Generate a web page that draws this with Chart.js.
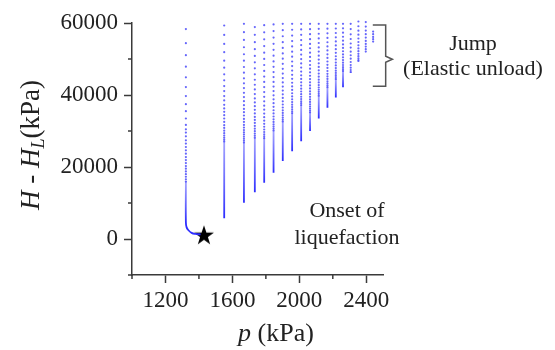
<!DOCTYPE html>
<html lang="pt-BR">
<head>
<meta charset="UTF-8">
<title>H - HL x p</title>
<script src="https://cdn.jsdelivr.net/npm/chart.js"></script>
<style>
  html, body { margin: 0; padding: 0; background: #fff; }
</style>
</head>
<body>
<canvas id="graficoPontos" width="555" height="350"></canvas>
<script>
  // pressão p (kPa) de cada coluna de pontos
  const colunasP = [1322, 1551, 1669, 1734, 1790, 1846, 1901, 1957, 2011, 2064, 2116, 2168, 2218, 2261, 2307, 2353, 2397, 2441];

  // valores H - HL (kPa) lidos em cada coluna, de cima para baixo
  const col01 = [58300, 54390, 51050, 47870, 44910, 42200, 39700, 37460, 35510, 33470, 31690, 30460, 29570, 28530, 27420, 26500, 25550, 24630, 23710, 22760, 21920, 21090, 20250, 19530, 18770, 18020, 17290, 16600, 15950];
  const col02 = [59300, 56700, 54200, 51900, 49540, 47590, 45750, 44070, 42480, 41090, 39690, 38490, 37270, 36270, 35320, 34400, 33470, 32530, 31610, 30860, 30100, 29400, 28750, 28150, 27600, 27100];
  const col03 = [59770, 57450, 55300, 53270, 51320, 49540, 47780, 46190, 44630, 43230, 41920, 40610, 39410, 38290, 37170, 36140, 35230, 34310, 33360, 32520, 31690, 30960, 30250, 29600, 29000, 28400, 27850, 27300, 26800];
  const col04 = [58860, 56710, 54670, 52720, 50850, 49090, 47420, 45750, 44240, 42850, 41560, 40250, 39050, 37940, 36900, 35870, 34870, 33920, 33080, 32250, 31410, 30650, 29950, 29300, 28700, 28150];
  const col05 = [59400, 57400, 55460, 53590, 51770, 50020, 48330, 46700, 45130, 43630, 42190, 40810, 39490, 38230, 37040, 35910, 34840, 33830, 32880, 32000, 31180, 30420, 29720, 29080, 28510, 28000];
  const col06 = [59600, 57750, 55960, 54220, 52540, 50910, 49340, 47830, 46370, 44970, 43620, 42330, 41100, 39920, 38800, 37730, 36720, 35770, 34870, 34030, 33240, 32510, 31840, 31220, 30660, 30150];
  const col07 = [59770, 58020, 56320, 54680, 53090, 51560, 50080, 48650, 47280, 45960, 44700, 43490, 42330, 41230, 40180, 39190, 38250, 37360, 36530, 35750, 35030, 34360, 33740, 33180, 32670];
  const col08 = [59770, 58120, 56520, 54980, 53480, 52040, 50650, 49310, 48030, 46790, 45610, 44480, 43400, 42380, 41400, 40480, 39610, 38790, 38030, 37310, 36650, 36040, 35480, 34980];
  const col09 = [59770, 58220, 56720, 55270, 53870, 52520, 51220, 49970, 48770, 47620, 46520, 45470, 44470, 43520, 42620, 41770, 40970, 40220, 39520, 38870, 38270, 37720, 37220];
  const col10 = [59770, 58290, 56900, 55500, 54190, 52990, 51760, 50570, 49450, 48330, 47300, 46300, 45350, 44430, 43510, 42670, 41840, 41000, 40250, 39490, 38770, 38080, 37420, 36800, 36220, 35680, 35180];
  const col11 = [59770, 58370, 57020, 55710, 54440, 53220, 52050, 50920, 49830, 48790, 47800, 46850, 45940, 45080, 44270, 43500, 42770, 42090, 41460, 40870, 40320, 39820];
  const col12 = [59770, 58420, 57120, 55860, 54650, 53490, 52380, 51310, 50290, 49310, 48390, 47510, 46670, 45890, 45150, 44460, 43810, 43210, 42660, 42160];
  const col13 = [59770, 58470, 57220, 56020, 54870, 53770, 52720, 51720, 50770, 49870, 49020, 48220, 47470, 46770, 46120, 45520, 44970, 44470];
  const col14 = [59770, 58520, 57320, 56180, 55090, 54060, 53080, 52150, 51280, 50460, 49700, 48990, 48330, 47730, 47180, 46690];
  const col15 = [59770, 58300, 56850, 55550, 54300, 53160, 52040, 51040, 50090, 49170, 48330, 47580, 46940, 46420];
  const col16 = [60410, 59100, 57880, 56750, 55700, 54720, 53800, 52950, 52160, 51440, 50790, 50200, 49680];
  const col17 = [60250, 59020, 57900, 56900, 55950, 55030, 54190, 53440, 52720, 52050];
  const col18 = [57620, 56900, 56140, 55500, 54830];
  const colunasH = [col01, col02, col03, col04, col05, col06, col07, col08, col09, col10, col11, col12, col13, col14, col15, col16, col17, col18];

  // fim do trecho denso (pontos colados) de cada coluna
  const fimDenso = [null, 5750, 10040, 13000, 15600, 18400, 21650, 24350, 27140, 30000, 33470, 36430, 39330, 42120, 46200, 49260, null, null];

  // trecho denso da primeira curva até o início da liquefação
  const curvaP = [1322, 1322, 1326, 1336, 1356, 1380, 1410];
  const curvaH = [15950, 4600, 3300, 2500, 1700, 1400, 1300];

  // estrela: início da liquefação
  const estrelaP = [1430];
  const estrelaH = [900];

  // eixos
  const ticksX = [1000, 1200, 1400, 1600, 1800, 2000, 2200, 2400];
  const rotulosX = [1200, 1600, 2000, 2400];
  const ticksY = [-10000, 0, 10000, 20000, 30000, 40000, 50000, 60000];
  const rotulosY = [0, 20000, 40000, 60000];

  const corPonto = 'rgba(75, 75, 250, 0.85)';
  const corEixo = '#3a3a3a';
  const fonteSerif = "'Liberation Serif', 'DejaVu Serif', serif";

  // estrela preta desenhada num canvas pequeno
  const estrela = document.createElement('canvas');
  estrela.width = 24;
  estrela.height = 24;
  const ce = estrela.getContext('2d');
  ce.beginPath();
  for (let i = 0; i < 10; i++) {
    const r = i % 2 === 0 ? 10.5 : 4.1;
    const a = -Math.PI / 2 + i * Math.PI / 5;
    ce.lineTo(12 + r * Math.cos(a), 12 + r * Math.sin(a));
  }
  ce.closePath();
  ce.fillStyle = '#000';
  ce.fill();

  // degradê do trecho denso: mais claro em cima, azul forte embaixo
  function degradeDenso(ctx, hTopo, hBase) {
    const chart = ctx.chart;
    if (!chart.chartArea) return 'rgba(55, 55, 255, 0.9)';
    const y = chart.scales.y;
    const g = chart.ctx.createLinearGradient(0, y.getPixelForValue(hTopo), 0, y.getPixelForValue(hBase));
    g.addColorStop(0, 'rgba(100, 100, 255, 0.6)');
    g.addColorStop(1, 'rgba(45, 45, 255, 1)');
    return g;
  }

  const conjuntos = [];

  conjuntos.push({
    data: colunasH.flatMap((lista, i) => lista.map(h => ({ x: colunasP[i], y: h }))),
    pointRadius: 1.1,
    pointBackgroundColor: corPonto,
    pointBorderWidth: 0,
    clip: false
  });

  colunasH.forEach((lista, i) => {
    if (fimDenso[i] == null) return;
    const topo = lista[lista.length - 1];
    conjuntos.push({
      data: [{ x: colunasP[i], y: topo }, { x: colunasP[i], y: fimDenso[i] }],
      showLine: true,
      borderColor: ctx => degradeDenso(ctx, topo, fimDenso[i]),
      borderWidth: 1.8,
      pointRadius: 0
    });
  });

  conjuntos.push({
    data: curvaP.map((p, i) => ({ x: p, y: curvaH[i] })),
    showLine: true,
    borderColor: ctx => degradeDenso(ctx, curvaH[0], curvaH[1]),
    borderWidth: 1.8,
    tension: 0.4,
    pointRadius: 0
  });

  conjuntos.push({
    data: estrelaP.map((p, i) => ({ x: p, y: estrelaH[i] })),
    pointStyle: estrela,
    pointRadius: 11,
    clip: false
  });

  // escreve partes de texto com estilos diferentes lado a lado
  function escreveTexto(ctx, partes, cx, base) {
    let largura = 0;
    partes.forEach(pt => {
      ctx.font = (pt.italico ? 'italic ' : '') + pt.tam + 'px ' + fonteSerif;
      pt.w = ctx.measureText(pt.t).width;
      largura += pt.w;
    });
    let xAtual = cx - largura / 2;
    partes.forEach(pt => {
      ctx.font = (pt.italico ? 'italic ' : '') + pt.tam + 'px ' + fonteSerif;
      ctx.fillText(pt.t, xAtual, base + (pt.dy || 0));
      xAtual += pt.w;
    });
  }

  const extras = {
    id: 'extras',
    afterDraw(chart) {
      const { ctx, scales: { x, y } } = chart;
      ctx.save();

      // ticks menores
      ctx.strokeStyle = corEixo;
      ctx.lineWidth = 1.5;
      ticksX.filter(v => !rotulosX.includes(v)).forEach(v => {
        const px = x.getPixelForValue(v);
        ctx.beginPath();
        ctx.moveTo(px, y.bottom);
        ctx.lineTo(px, y.bottom + 4);
        ctx.stroke();
      });
      ticksY.filter(v => !rotulosY.includes(v)).forEach(v => {
        const py = y.getPixelForValue(v);
        ctx.beginPath();
        ctx.moveTo(x.left, py);
        ctx.lineTo(x.left - 4, py);
        ctx.stroke();
      });

      // chave do "Jump"
      ctx.strokeStyle = '#555';
      ctx.lineWidth = 1.5;
      const xa = x.getPixelForValue(2439);
      const xb = x.getPixelForValue(2516);
      const xc = x.getPixelForValue(2556);
      const ya = y.getPixelForValue(59470);
      const ym = y.getPixelForValue(49930);
      const yb = y.getPixelForValue(42460);
      ctx.beginPath();
      ctx.moveTo(xa, ya);
      ctx.lineTo(xb, ya);
      ctx.lineTo(xb, ym - 3);
      ctx.lineTo(xc, ym);
      ctx.lineTo(xb, ym + 3);
      ctx.lineTo(xb, yb);
      ctx.lineTo(xa, yb);
      ctx.stroke();

      // anotações
      ctx.fillStyle = '#222';
      ctx.textAlign = 'left';
      ctx.textBaseline = 'alphabetic';
      escreveTexto(ctx, [{ t: 'Jump', tam: 22 }], 473, 50);
      escreveTexto(ctx, [{ t: '(Elastic unload)', tam: 22 }], 473, 75);
      escreveTexto(ctx, [{ t: 'Onset of', tam: 22 }], 347, 217);
      escreveTexto(ctx, [{ t: 'liquefaction', tam: 22 }], 347, 244);

      // título eixo x
      escreveTexto(ctx, [
        { t: 'p', tam: 26, italico: true },
        { t: ' (kPa)', tam: 26 }
      ], 276, 341);

      // título eixo y (girado)
      ctx.translate(39, 145);
      ctx.rotate(-Math.PI / 2);
      escreveTexto(ctx, [
        { t: 'H', tam: 27, italico: true },
        { t: ' - ', tam: 27 },
        { t: 'H', tam: 27, italico: true },
        { t: 'L', tam: 18, italico: true, dy: 5 },
        { t: '(kPa)', tam: 27 }
      ], 0, 0);

      ctx.restore();
    }
  };

  new Chart(document.getElementById('graficoPontos'), {
    type: 'scatter',
    data: { datasets: conjuntos },
    options: {
      responsive: false,
      animation: false,
      devicePixelRatio: 1,
      layout: { padding: { top: 23, right: 172, left: 0, bottom: 0 } },
      plugins: { legend: { display: false }, tooltip: { enabled: false } },
      scales: {
        x: {
          type: 'linear',
          min: 1000,
          max: 2500,
          afterBuildTicks: s => { s.ticks = ticksX.map(v => ({ value: v })); },
          afterFit: s => { s.height = 75; },
          ticks: {
            callback: v => rotulosX.includes(v) ? String(v) : '',
            font: { family: fonteSerif, size: 23 },
            color: '#222',
            padding: 4,
            maxRotation: 0,
            autoSkip: false
          },
          grid: {
            drawOnChartArea: false,
            tickLength: 8,
            tickWidth: 1.5,
            tickColor: c => rotulosX.includes(c.tick.value) ? corEixo : 'rgba(0,0,0,0)'
          },
          border: { color: corEixo, width: 1.5 }
        },
        y: {
          type: 'linear',
          min: -10000,
          max: 60000,
          afterBuildTicks: s => { s.ticks = ticksY.map(v => ({ value: v })); },
          afterFit: s => { s.width = 132; },
          ticks: {
            callback: v => rotulosY.includes(v) ? String(v) : '',
            font: { family: fonteSerif, size: 23 },
            color: '#222',
            padding: 6,
            autoSkip: false
          },
          grid: {
            drawOnChartArea: false,
            tickLength: 8,
            tickWidth: 1.5,
            tickColor: c => rotulosY.includes(c.tick.value) ? corEixo : 'rgba(0,0,0,0)'
          },
          border: { color: corEixo, width: 1.5 }
        }
      }
    },
    plugins: [extras]
  });
</script>
</body>
</html>
